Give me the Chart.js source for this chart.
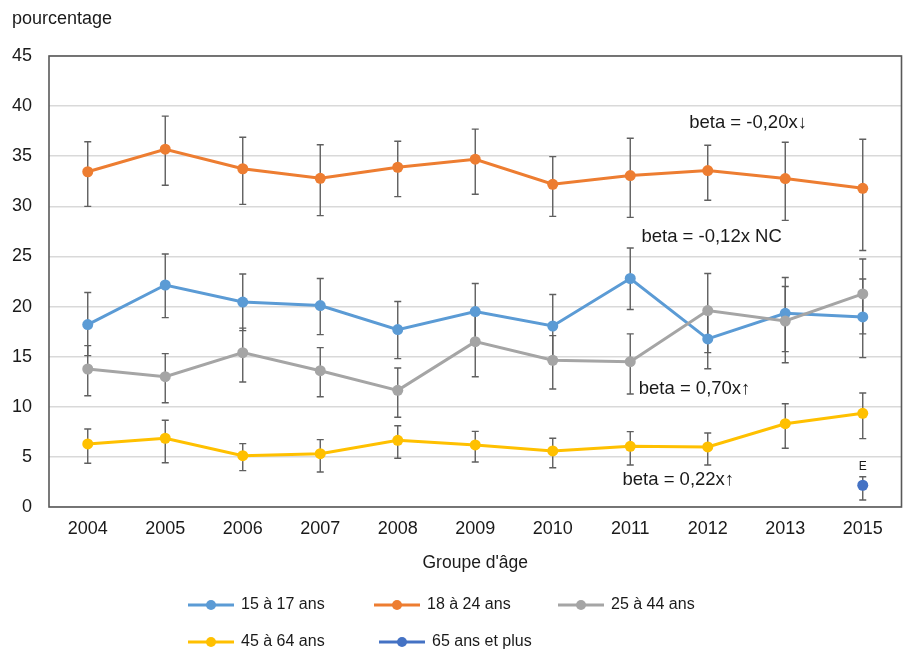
<!DOCTYPE html>
<html lang="fr">
<head>
<meta charset="UTF-8">
<title>Pourcentage par groupe d'âge</title>
<script src="https://cdn.jsdelivr.net/npm/chart.js"></script>
<style>
  html, body { margin: 0; padding: 0; background: #fff; }
  #wrap { width: 907px; height: 650px; position: relative; }
</style>
</head>
<body>
<div id="wrap"><canvas id="graphique"></canvas></div>
<script>
// --- données ---
const annees = ['2004', '2005', '2006', '2007', '2008', '2009', '2010', '2011', '2012', '2013', '2015'];

const groupes = ['15 à 17 ans', '18 à 24 ans', '25 à 44 ans', '45 à 64 ans', '65 ans et plus'];
const couleurs = ['#5B9BD5', '#ED7D31', '#A5A5A5', '#FFC000', '#4472C4'];

const ans15a17 = [18.2, 22.15, 20.45, 20.1, 17.7, 19.5, 18.06, 22.8, 16.77, 19.33, 18.96];
const ans15a17Bas = [15.1, 18.9, 17.6, 17.2, 14.8, 16.6, 15.0, 19.7, 13.8, 15.5, 14.9];
const ans15a17Haut = [21.4, 25.25, 23.25, 22.8, 20.5, 22.3, 21.2, 25.85, 19.7, 22.9, 22.75];

const ans18a24 = [33.45, 35.7, 33.75, 32.8, 33.9, 34.7, 32.2, 33.07, 33.57, 32.77, 31.8];
const ans18a24Bas = [30.0, 32.1, 30.2, 29.07, 30.97, 31.2, 29.0, 28.9, 30.6, 28.6, 25.6];
const ans18a24Haut = [36.45, 39.0, 36.9, 36.15, 36.5, 37.7, 34.96, 36.8, 36.1, 36.4, 36.7];

const ans25a44 = [13.77, 13.0, 15.4, 13.6, 11.64, 16.5, 14.64, 14.5, 19.6, 18.56, 21.26];
const ans25a44Bas = [11.1, 10.4, 12.47, 11.0, 8.95, 13.0, 11.78, 11.28, 15.4, 14.4, 17.27];
const ans25a44Haut = [16.1, 15.3, 17.85, 15.9, 13.87, 19.8, 17.1, 17.27, 23.3, 22.0, 24.75];

const ans45a64 = [6.29, 6.86, 5.12, 5.32, 6.65, 6.19, 5.59, 6.06, 5.99, 8.31, 9.35];
const ans45a64Bas = [4.36, 4.42, 3.63, 3.49, 4.86, 4.49, 3.92, 4.19, 4.19, 5.86, 6.82];
const ans45a64Haut = [7.78, 8.65, 6.32, 6.72, 8.11, 7.55, 6.86, 7.52, 7.39, 10.3, 11.38];

const ans65plus = [null, null, null, null, null, null, null, null, null, null, 2.17];
const ans65plusBas = [null, null, null, null, null, null, null, null, null, null, 0.7];
const ans65plusHaut = [null, null, null, null, null, null, null, null, null, null, 3.02];
const ans65plusNote = ['', '', '', '', '', '', '', '', '', '', 'E'];

// annotations (position en index de catégorie / valeur)
const betaTextes = ['beta = -0,20x↓', 'beta = -0,12x NC', 'beta = 0,70x↑', 'beta = 0,22x↑'];
const betaX = [8.52, 8.05, 7.83, 7.62];
const betaY = [38.3, 26.98, 11.78, 2.7];

const graduations = [0, 5, 10, 15, 20, 25, 30, 35, 40, 45];

const series = [ans15a17, ans18a24, ans25a44, ans45a64, ans65plus];
const basses = [ans15a17Bas, ans18a24Bas, ans25a44Bas, ans45a64Bas, ans65plusBas];
const hautes = [ans15a17Haut, ans18a24Haut, ans25a44Haut, ans45a64Haut, ans65plusHaut];

const police = "'Liberation Sans', Arial, sans-serif";

// barres d'erreur + cadre
const barresErreur = {
    id: 'barresErreur',
    beforeDatasetsDraw(chart) {
        const ctx = chart.ctx;
        const x = chart.scales.x, y = chart.scales.y;
        const a = chart.chartArea;
        ctx.save();
        ctx.strokeStyle = '#595959';
        ctx.lineWidth = 1.6;
        ctx.strokeRect(a.left, a.top, a.right - a.left, a.bottom - a.top);
        ctx.lineWidth = 1.4;
        ctx.strokeStyle = '#5f5f5f';
        for (let s = 0; s < series.length; s++) {
            for (let i = 0; i < annees.length; i++) {
                if (series[s][i] === null) continue;
                const px = x.getPixelForValue(i);
                const yb = y.getPixelForValue(basses[s][i]);
                const yh = y.getPixelForValue(hautes[s][i]);
                ctx.beginPath();
                ctx.moveTo(px, yb); ctx.lineTo(px, yh);
                ctx.moveTo(px - 3.5, yb); ctx.lineTo(px + 3.5, yb);
                ctx.moveTo(px - 3.5, yh); ctx.lineTo(px + 3.5, yh);
                ctx.stroke();
            }
        }
        ctx.restore();
    }
};

// textes beta, note E et légende
const textes = {
    id: 'textes',
    afterDraw(chart) {
        const ctx = chart.ctx;
        const x = chart.scales.x, y = chart.scales.y;
        ctx.save();
        ctx.fillStyle = '#1a1a1a';
        ctx.textAlign = 'center';
        ctx.textBaseline = 'middle';
        ctx.font = '18.5px ' + police;
        for (let k = 0; k < betaTextes.length; k++) {
            ctx.fillText(betaTextes[k], x.getPixelForValue(betaX[k]), y.getPixelForValue(betaY[k]));
        }
        ctx.font = '12px ' + police;
        for (let i = 0; i < annees.length; i++) {
            if (ans65plusNote[i]) {
                ctx.fillText(ans65plusNote[i], x.getPixelForValue(i), y.getPixelForValue(hautes[4][i]) - 10);
            }
        }
        // légende sur deux lignes
        const places = [[188, 605], [374, 605], [558, 605], [188, 642], [379, 642]];
        ctx.textAlign = 'left';
        ctx.font = '16px ' + police;
        for (let s = 0; s < groupes.length; s++) {
            const [lx, ly] = places[s];
            ctx.strokeStyle = couleurs[s];
            ctx.lineWidth = 2.8;
            ctx.beginPath();
            ctx.moveTo(lx, ly); ctx.lineTo(lx + 46, ly);
            ctx.stroke();
            ctx.fillStyle = couleurs[s];
            ctx.beginPath();
            ctx.arc(lx + 23, ly, 5, 0, Math.PI * 2);
            ctx.fill();
            ctx.fillStyle = '#1a1a1a';
            ctx.fillText(groupes[s], lx + 53, ly);
        }
        ctx.restore();
    }
};

const jeux = series.map(function (d, s) {
    return {
        label: groupes[s],
        data: d,
        borderColor: couleurs[s],
        backgroundColor: couleurs[s],
        borderWidth: 3,
        pointRadius: 5.5,
        pointHoverRadius: 5.5,
        pointBorderWidth: 0,
        tension: 0,
        order: series.length - s
    };
});

new Chart(document.getElementById('graphique'), {
    type: 'line',
    data: { labels: annees, datasets: jeux },
    options: {
        responsive: true,
        maintainAspectRatio: false,
        animation: false,
        layout: { padding: { left: 12, right: 3, top: 0, bottom: 0 } },
        plugins: {
            legend: { display: false },
            tooltip: { enabled: false },
            title: {
                display: true,
                text: 'pourcentage',
                align: 'start',
                color: '#1a1a1a',
                font: { family: police, size: 18, weight: 'normal' },
                padding: { top: 8, bottom: 26.4 }
            }
        },
        scales: {
            x: {
                offset: true,
                grid: { display: false, drawTicks: false },
                border: { display: false },
                ticks: { color: '#1a1a1a', font: { family: police, size: 18 }, padding: 11, maxRotation: 0 },
                title: {
                    display: true,
                    text: "Groupe d'âge",
                    color: '#1a1a1a',
                    font: { family: police, size: 17.5 },
                    padding: { top: 0, bottom: 76.5 }
                },
                afterFit(scale) { scale.height = 143; }
            },
            y: {
                min: 0,
                max: 45,
                afterBuildTicks(scale) { scale.ticks = graduations.map(v => ({ value: v })); },
                grid: { color: '#d9d9d9', lineWidth: 1.5, drawTicks: false },
                border: { display: false },
                ticks: { color: '#1a1a1a', font: { family: police, size: 18 }, padding: 17 },
                afterFit(scale) { scale.width = 37; }
            }
        }
    },
    plugins: [barresErreur, textes]
});
</script>
</body>
</html>
